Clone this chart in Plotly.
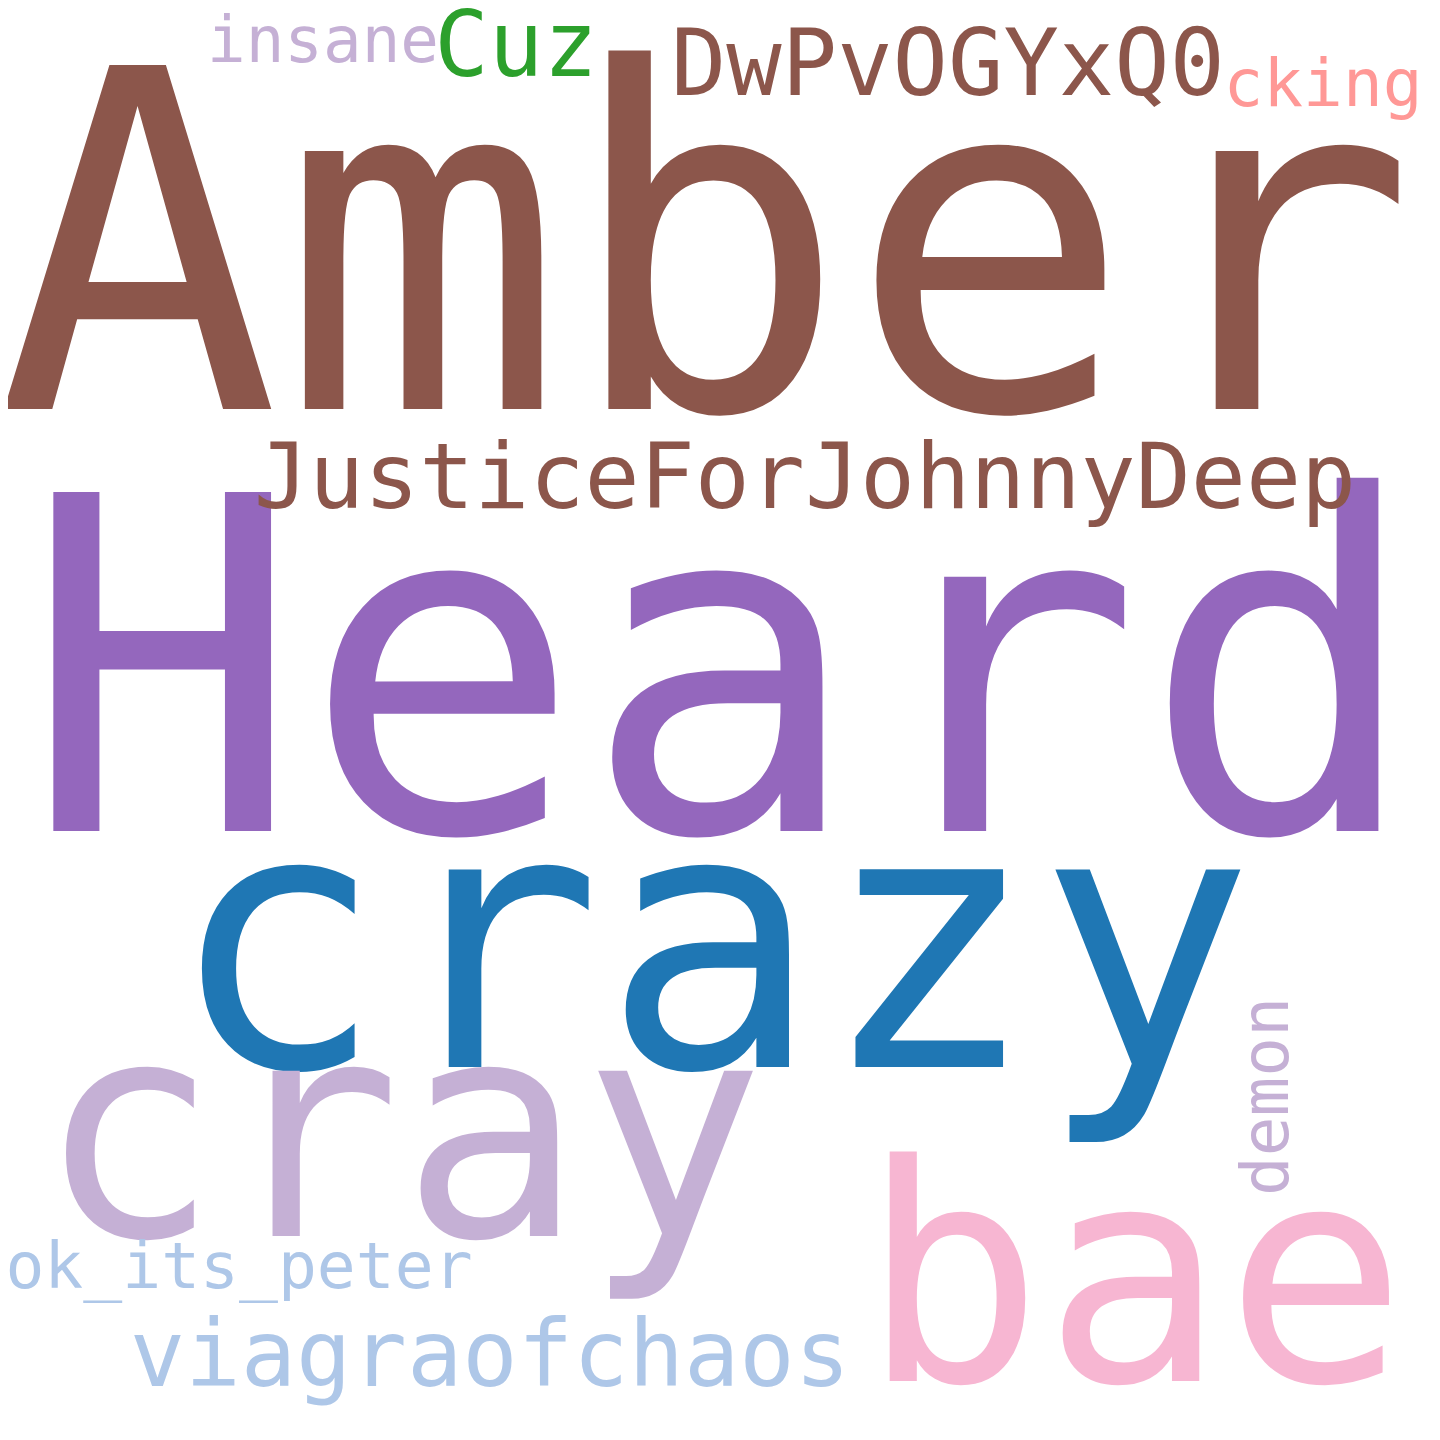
import plotly.graph_objects as go

# word cloud: words, relative frequency, colour
words = ["Amber", "Heard", "crazy", "cray", "bae", "JusticeForJohnnyDeep",
         "DwPvOGYxQ0", "Cuz", "viagraofchaos", "cking", "insane",
         "ok_its_peter", "demon"]
frequencies = [1.00, 0.985, 0.765, 0.64, 0.64, 0.194,
               0.195, 0.192, 0.195, 0.14, 0.136,
               0.137, 0.14]
colors = ["#8c564b", "#9467bd", "#1f77b4", "#c5b0d5", "#f7b6d2", "#8c564b",
          "#8c564b", "#2ca02c", "#aec7e8", "#ff9896", "#c5b0d5",
          "#aec7e8", "#c5b0d5"]
vertical = [False] * 12 + [True]

# placement (centre x, baseline y) in pixels of the 1440x1440 canvas
place_x = [698, 714, 703, 393, 1126, 797, 940, 508, 482, 1315, 315, 231, 1257]
place_y = [410, 832, 1068, 1237, 1382, 509, 96, 77, 1387, 107, 63, 1289, 1089]

MAX_FONT = 472
FONT = "DejaVu Sans Mono"

sizes = [MAX_FONT * f for f in frequencies]

fig = go.Figure()

hx, hy, ht, hs, hc = [], [], [], [], []
for w, x, y, s, c, v in zip(words, place_x, place_y, sizes, colors, vertical):
    if v:
        fig.add_annotation(x=x, y=y, text=w, textangle=-90, showarrow=False,
                           xref="x", yref="y",
                           font=dict(family=FONT, size=s, color=c))
    else:
        hx.append(x)
        # plotly puts the baseline a little under the point
        hy.append(y - 0.25 * s - 9)
        ht.append(w)
        hs.append(s)
        hc.append(c)

fig.add_trace(go.Scatter(
    x=hx, y=hy, text=ht, mode="text", textposition="middle center",
    textfont=dict(family=FONT, size=hs, color=hc),
    hoverinfo="text", cliponaxis=False, showlegend=False,
))

fig.update_layout(
    width=1440, height=1440,
    margin=dict(l=0, r=0, t=0, b=0),
    paper_bgcolor="white", plot_bgcolor="white",
    xaxis=dict(range=[0, 1440], visible=False, fixedrange=True),
    yaxis=dict(range=[1440, 0], visible=False, fixedrange=True),
)

fig.write_html("out.html")
